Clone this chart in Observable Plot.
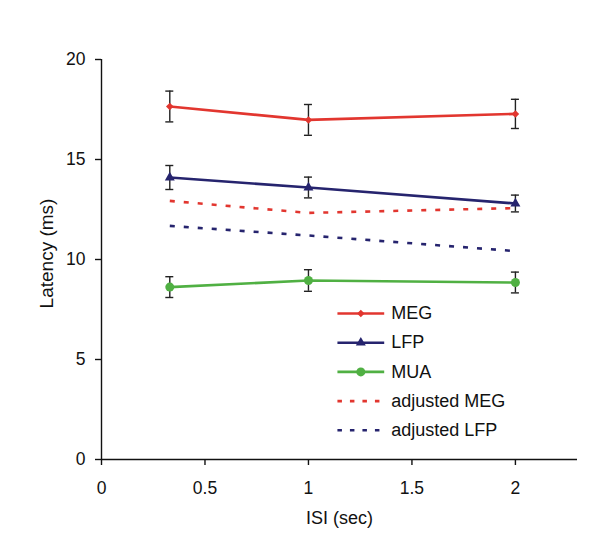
<!DOCTYPE html>
<html>
<head>
<meta charset="utf-8">
<script src="https://cdn.jsdelivr.net/npm/d3@7"></script>
<script src="https://cdn.jsdelivr.net/npm/@observablehq/plot@0.6"></script>
<style>
  html, body { margin: 0; padding: 0; background: #fff; }
  #chart svg { display: block; }
</style>
</head>
<body>
<div id="chart"></div>
<script>
// ---- data ----
const isi = [0.33, 1, 2];
const meg = [17.65, 16.98, 17.28];
const megErr = [0.77, 0.77, 0.73];
const lfp = [14.1, 13.6, 12.8];
const lfpErr = [0.6, 0.52, 0.42];
const mua = [8.62, 8.95, 8.85];
const muaErr = [0.52, 0.54, 0.52];
const adjMeg = [12.93, 12.33, 12.57];
const adjLfp = [11.68, 11.2, 10.42];
const seriesNames = ["MEG", "LFP", "MUA", "adjusted MEG", "adjusted LFP"];
const xTicks = [0, 0.5, 1, 1.5, 2];
const yTicks = [0, 5, 10, 15, 20];

// ---- styles ----
const colors = {MEG: "#e2362f", LFP: "#26246e", MUA: "#50b043", "adjusted MEG": "#e2362f", "adjusted LFP": "#26246e"};
const symbols = {MEG: "diamond2", LFP: "triangle", MUA: "circle"};
const sizes = {MEG: 3.4, LFP: 3.7, MUA: 4.5};
const font = "'Liberation Sans', Arial, sans-serif";

const solid = [
  {name: "MEG", v: meg, e: megErr},
  {name: "LFP", v: lfp, e: lfpErr},
  {name: "MUA", v: mua, e: muaErr}
];
const pts = solid.flatMap(s => isi.map((x, i) => ({name: s.name, x, y: s.v[i], err: s.e[i]})));
const adj = [
  ...isi.map((x, i) => ({name: "adjusted MEG", x, y: adjMeg[i]})),
  ...isi.map((x, i) => ({name: "adjusted LFP", x, y: adjLfp[i]}))
];

// legend rows (placed in the lower right of the frame)
const legend = seriesNames.map((name, i) => ({name, x0: 1.14, x1: 1.366, xm: 1.253, xt: 1.40, y: 7.3 - 1.46 * i}));
const legendSolid = legend.filter(d => !d.name.startsWith("adjusted"));
const legendDashed = legend.filter(d => d.name.startsWith("adjusted"));

const chart = Plot.plot({
  width: 600,
  height: 554,
  marginLeft: 101,
  marginRight: 23,
  marginTop: 59,
  marginBottom: 95,
  style: {fontFamily: font, fontSize: "17.5px", color: "#111", background: "#fff"},
  x: {domain: [0, 2.3]},
  y: {domain: [0, 20]},
  marks: [
    // axes
    Plot.ruleX([0], {y1: 0, y2: 20, stroke: "#111", strokeWidth: 1.4}),
    Plot.ruleY([0], {x1: 0, x2: 2.3, stroke: "#111", strokeWidth: 1.4}),
    Plot.axisX(xTicks, {ticks: xTicks, tickSize: 6, tickPadding: 16, tickFormat: d => String(d), label: null, fontSize: 17.5, strokeWidth: 1.4, stroke: "#111"}),
    Plot.axisY(yTicks, {ticks: yTicks, tickSize: 6, tickPadding: 10, tickFormat: d => String(d), label: null, fontSize: 17.5, strokeWidth: 1.4, stroke: "#111"}),
    Plot.text(["ISI (sec)"], {frameAnchor: "bottom", textAnchor: "middle", lineAnchor: "middle", dy: 59, fontSize: 18, fill: "#111"}),
    Plot.text(["Latency (ms)"], {frameAnchor: "left", textAnchor: "middle", lineAnchor: "middle", dx: -55, dy: -6, rotate: -90, fontSize: 19, fill: "#111"}),

    // adjusted dashed lines
    Plot.line(adj, {x: "x", y: "y", z: "name", stroke: d => colors[d.name], strokeWidth: 2.6, strokeDasharray: "5,9", strokeLinecap: "butt"}),

    // solid lines
    Plot.line(pts, {x: "x", y: "y", z: "name", stroke: d => colors[d.name], strokeWidth: 2.6}),

    // error bars
    Plot.ruleX(pts, {x: "x", y1: d => d.y - d.err, y2: d => d.y + d.err, stroke: "#222", strokeWidth: 1.4}),
    Plot.ruleY(pts, {y: d => d.y + d.err, x1: "x", x2: "x", insetLeft: -4, insetRight: -4, stroke: "#222", strokeWidth: 1.4}),
    Plot.ruleY(pts, {y: d => d.y - d.err, x1: "x", x2: "x", insetLeft: -4, insetRight: -4, stroke: "#222", strokeWidth: 1.4}),

    // markers
    ...solid.map(s => Plot.dot(pts.filter(d => d.name === s.name), {x: "x", y: "y", symbol: symbols[s.name], r: sizes[s.name], fill: colors[s.name], stroke: "none"})),

    // legend
    Plot.link(legendSolid, {x1: "x0", x2: "x1", y1: "y", y2: "y", stroke: d => colors[d.name], strokeWidth: 2.6}),
    Plot.link(legendDashed, {x1: "x0", x2: "x1", y1: "y", y2: "y", stroke: d => colors[d.name], strokeWidth: 2.6, strokeDasharray: "4.5,8", strokeLinecap: "butt"}),
    ...["MEG", "LFP", "MUA"].map(n => Plot.dot(legend.filter(d => d.name === n), {x: "xm", y: "y", symbol: symbols[n], r: sizes[n], fill: colors[n], stroke: "none"})),
    Plot.text(legend, {x: "xt", y: "y", text: "name", textAnchor: "start", fontSize: 18, fill: "#111"})
  ]
});

document.getElementById("chart").appendChild(chart);
</script>
</body>
</html>
